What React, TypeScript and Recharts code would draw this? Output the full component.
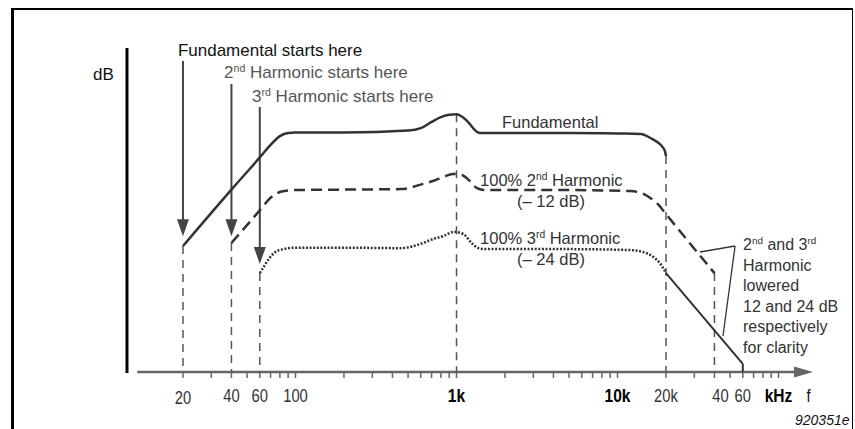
import { ComposedChart, Line, XAxis, YAxis, ReferenceLine, ReferenceDot } from 'recharts';

// frequency response (Hz / dB)
const FUND_FREQ = [20, 40, 60, 70, 80, 90, 100, 200, 500, 600, 700, 800, 900, 1000, 1100, 1200, 1300, 1400, 2000, 5000, 10000, 14000, 16000, 18000, 19000, 19700, 20000];
const FUND_DB = [-23.75, -12, -5.3, -2.7, -0.85, -0.2, -0.1, -0.1, 0.3, 0.8, 2.1, 3.1, 3.6, 3.7, 3.0, 1.8, 0.4, -0.2, -0.2, -0.2, -0.3, -0.4, -1.25, -2.3, -3.1, -4.0, -5.0];

const SECOND_FREQ = [40, 50, 60, 70, 80, 90, 100, 200, 450, 620, 715, 825, 950, 1080, 1210, 1340, 1500, 5000, 12000, 14000, 16000, 18000, 20000, 40000];
const SECOND_DB = [-23.1, -19.4, -16.3, -13.7, -12.5, -12.2, -12.1, -12.0, -11.9, -10.8, -10.2, -9.4, -8.75, -8.95, -10.2, -11.7, -12.1, -12.1, -12.3, -12.7, -13.75, -15.2, -17.1, -29.4];

const THIRD_FREQ = [60, 64, 69, 75, 84, 100, 200, 450, 600, 715, 825, 960, 1100, 1240, 1370, 1500, 5000, 12000, 15000, 17000, 18500, 20000];
const THIRD_DB = [-29.4, -27.9, -26.25, -25.0, -24.4, -24.1, -24.1, -24.2, -23.3, -22.3, -21.7, -20.8, -21.25, -23.1, -24.2, -24.4, -24.4, -24.6, -25.2, -26.25, -27.5, -29.4];

const TAIL_FREQ = [20000, 60000];
const TAIL_DB = [-29.4, -48.3];

const AXIS_TICKS = [20, 30, 40, 50, 60, 70, 80, 90, 100, 200, 300, 400, 500, 600, 700, 800, 900, 1000, 2000, 3000, 4000, 5000, 6000, 7000, 8000, 9000, 10000, 20000, 30000, 40000, 50000, 60000, 70000, 80000, 90000, 100000];
const LABEL_FREQS = [20, 40, 60, 100, 1000, 10000, 20000, 40000, 60000, 100000];
const LABEL_TEXTS = ['20', '40', '60', '100', '1k', '10k', '20k', '40', '60', 'kHz'];
const BOLD_LABELS = ['1k', '10k', 'kHz'];

// dashed drop lines: [freq, top dB]
const DROP_FREQS = [20, 40, 60, 1000, 20000, 40000];
const DROP_TOPS = [-23.75, -23.1, -29.4, 3.7, -5.0, -29.4];

// "starts here" arrows: [freq, top dB, tip dB]
const ARROW_FREQS = [20, 40, 60];
const ARROW_TOPS = [14.8, 10.0, 5.2];
const ARROW_TIPS = [-21.7, -21.7, -27.5];

const DB_MIN = -50;
const DB_MAX = 17.5;

const toPoints = (fs: number[], dbs: number[]) => fs.map((f, i) => ({ f, db: dbs[i] }));

const fundData = toPoints(FUND_FREQ, FUND_DB);
const secondData = toPoints(SECOND_FREQ, SECOND_DB);
const thirdData = toPoints(THIRD_FREQ, THIRD_DB);
const tailData = toPoints(TAIL_FREQ, TAIL_DB);

const FONT = "'Liberation Sans', Arial, Helvetica, sans-serif";

type Note = {
  f: number;
  db: number;
  lines: string[];
  size: number;
  color: string;
  lineHeight?: number;
  italic?: boolean;
};

const NOTES: Note[] = [
  { f: 18.6, db: 15.8, lines: ['Fundamental starts here'], size: 17, color: '#111' },
  { f: 36, db: 11.25, lines: ['2^nd Harmonic starts here'], size: 17, color: '#555' },
  { f: 53.7, db: 6.25, lines: ['3^rd Harmonic starts here'], size: 17, color: '#555' },
  { f: 5.52, db: 10.8, lines: ['dB'], size: 17, color: '#111' },
  { f: 1917, db: 0.9, lines: ['Fundamental'], size: 16.5, color: '#333' },
  { f: 1400, db: -11.25, lines: ['100% 2^nd Harmonic'], size: 16.5, color: '#333' },
  { f: 2376, db: -15.6, lines: ['(– 12 dB)'], size: 16.5, color: '#333' },
  { f: 1400, db: -23.3, lines: ['100% 3^rd Harmonic'], size: 16.5, color: '#333' },
  { f: 2376, db: -27.7, lines: ['(– 24 dB)'], size: 16.5, color: '#333' },
  {
    f: 60200,
    db: -24.6,
    lines: ['2^nd and 3^rd', 'Harmonic', 'lowered', '12 and 24 dB', 'respectively', 'for clarity'],
    size: 16,
    color: '#333',
    lineHeight: 20.5,
  },
  { f: 126600, db: -61, lines: ['920351e'], size: 14, color: '#111', italic: true },
];

// bracket from the 2nd harmonic to the 3rd harmonic tail
const BRACKET_FREQS = [32500, 53700, 45200];
const BRACKET_DB = [-25, -23.75, -42.5];

function richLine(text: string, size: number) {
  const parts = text.split(/(\^\w+)/).filter((p) => p.length > 0);
  let raised = false;
  return parts.map((p, i) => {
    if (p.startsWith('^')) {
      raised = true;
      return (
        <tspan key={i} dy={-6} fontSize={size * 0.62}>
          {p.slice(1)}
        </tspan>
      );
    }
    const dy = raised ? 6 : 0;
    raised = false;
    return (
      <tspan key={i} dy={dy}>
        {p}
      </tspan>
    );
  });
}

const noteShape = (note: Note) => (props: any) => {
  const { cx, cy } = props;
  return (
    <g>
      {note.lines.map((line, i) => (
        <text
          key={i}
          x={cx}
          y={cy + i * (note.lineHeight || 0)}
          fill={note.color}
          fontSize={note.size}
          fontFamily={FONT}
          fontStyle={note.italic ? 'italic' : 'normal'}
        >
          {richLine(line, note.size)}
        </text>
      ))}
    </g>
  );
};

const downArrowHead = (props: any) => {
  const { cx, cy } = props;
  return <polygon points={`${cx - 6},${cy - 17} ${cx + 6},${cy - 17} ${cx},${cy}`} fill="#444" />;
};

const rightArrowHead = (props: any) => {
  const { cx, cy } = props;
  return <polygon points={`${cx - 19},${cy - 5.5} ${cx - 19},${cy + 5.5} ${cx},${cy}`} fill="#666" />;
};

// narrow-looking tick labels: squeeze Liberation Sans horizontally around the anchor
const Narrow = ({ x, y, children, bold, color }: any) => (
  <text
    x={0}
    y={0}
    transform={`translate(${x},${y}) scale(0.82,1)`}
    textAnchor="middle"
    fontFamily={FONT}
    fontSize={bold ? 19 : 18}
    fontWeight={bold ? 'bold' : 'normal'}
    fill={color}
  >
    {children}
  </text>
);

const renderTick = (props: any) => {
  const { x, y, payload } = props;
  const i = LABEL_FREQS.indexOf(payload.value);
  if (i < 0) return <g />;
  const text = LABEL_TEXTS[i];
  const bold = BOLD_LABELS.includes(text);
  const dx = i === 7 ? 6 : 0;
  const dy = i === 0 ? 24 : 22;
  return (
    <g>
      <Narrow x={x + dx} y={y + dy} bold={bold} color={bold ? '#000' : '#333'}>
        {text}
      </Narrow>
      {text === 'kHz' && (
        <Narrow x={x + 30} y={y + dy} color="#111">
          f
        </Narrow>
      )}
    </g>
  );
};

export default function App() {
  return (
    <div style={{ position: 'absolute', left: 0, top: 0, width: 853, height: 429, overflow: 'hidden', background: '#fff' }}>
      <ComposedChart width={855} height={429} margin={{ top: 48, right: 28, bottom: 17, left: 134.5 }}>
        <XAxis
          dataKey="f"
          type="number"
          scale="log"
          domain={[10, 200000]}
          allowDataOverflow
          ticks={AXIS_TICKS}
          interval={0}
          axisLine={false}
          tickLine={{ stroke: '#666', strokeWidth: 1.5 }}
          tickSize={6}
          height={40}
          tick={renderTick}
        />
        <YAxis type="number" domain={[DB_MIN, DB_MAX]} allowDataOverflow hide />

        {/* axes drawn by hand: heavy dB bar and the arrowed frequency axis */}
        <ReferenceLine
          segment={[{ x: 8.98, y: DB_MAX }, { x: 8.98, y: -50.2 }]}
          stroke="#000"
          strokeWidth={3}
          ifOverflow="visible"
        />
        <ReferenceLine
          segment={[{ x: 10.4, y: DB_MIN }, { x: 150000, y: DB_MIN }]}
          stroke="#666"
          strokeWidth={2.5}
          ifOverflow="visible"
        />
        <ReferenceDot x={163700} y={DB_MIN} r={0} ifOverflow="visible" shape={rightArrowHead} />

        {DROP_FREQS.map((f, i) => (
          <ReferenceLine
            key={`drop-${f}`}
            segment={[{ x: f, y: DROP_TOPS[i] }, { x: f, y: DB_MIN }]}
            stroke="#555"
            strokeWidth={1.5}
            strokeDasharray="8 6"
            ifOverflow="visible"
          />
        ))}
        <ReferenceLine
          segment={[{ x: 60000, y: -48.3 }, { x: 60000, y: DB_MIN }]}
          stroke="#333"
          strokeWidth={2}
          ifOverflow="visible"
        />

        {ARROW_FREQS.map((f, i) => (
          <ReferenceLine
            key={`arrow-${f}`}
            segment={[{ x: f, y: ARROW_TOPS[i] }, { x: f, y: ARROW_TIPS[i] + 2 }]}
            stroke="#444"
            strokeWidth={2}
            ifOverflow="visible"
          />
        ))}
        {ARROW_FREQS.map((f, i) => (
          <ReferenceDot key={`head-${f}`} x={f} y={ARROW_TIPS[i]} r={0} ifOverflow="visible" shape={downArrowHead} />
        ))}

        <ReferenceLine
          segment={[{ x: BRACKET_FREQS[0], y: BRACKET_DB[0] }, { x: BRACKET_FREQS[1], y: BRACKET_DB[1] }]}
          stroke="#333"
          strokeWidth={1.3}
          ifOverflow="visible"
        />
        <ReferenceLine
          segment={[{ x: BRACKET_FREQS[1], y: BRACKET_DB[1] }, { x: BRACKET_FREQS[2], y: BRACKET_DB[2] }]}
          stroke="#333"
          strokeWidth={1.3}
          ifOverflow="visible"
        />

        <Line data={fundData} dataKey="db" type="monotone" stroke="#333" strokeWidth={2.5} dot={false} isAnimationActive={false} />
        <Line data={secondData} dataKey="db" type="monotone" stroke="#333" strokeWidth={2.5} strokeDasharray="11 6" dot={false} isAnimationActive={false} />
        <Line data={thirdData} dataKey="db" type="monotone" stroke="#333" strokeWidth={2.5} strokeDasharray="2 1.6" dot={false} isAnimationActive={false} />
        <Line data={tailData} dataKey="db" type="linear" stroke="#333" strokeWidth={2} dot={false} isAnimationActive={false} />

        {NOTES.map((n, i) => (
          <ReferenceDot key={`note-${i}`} x={n.f} y={n.db} r={0} ifOverflow="visible" shape={noteShape(n)} />
        ))}
      </ComposedChart>
      <div
        style={{
          position: 'absolute',
          left: 11,
          top: 8,
          width: 842,
          height: 421,
          boxSizing: 'border-box',
          borderTop: '2.5px solid #000',
          borderLeft: '3px solid #000',
          borderRight: '1px solid #000',
          pointerEvents: 'none',
        }}
      />
    </div>
  );
}
